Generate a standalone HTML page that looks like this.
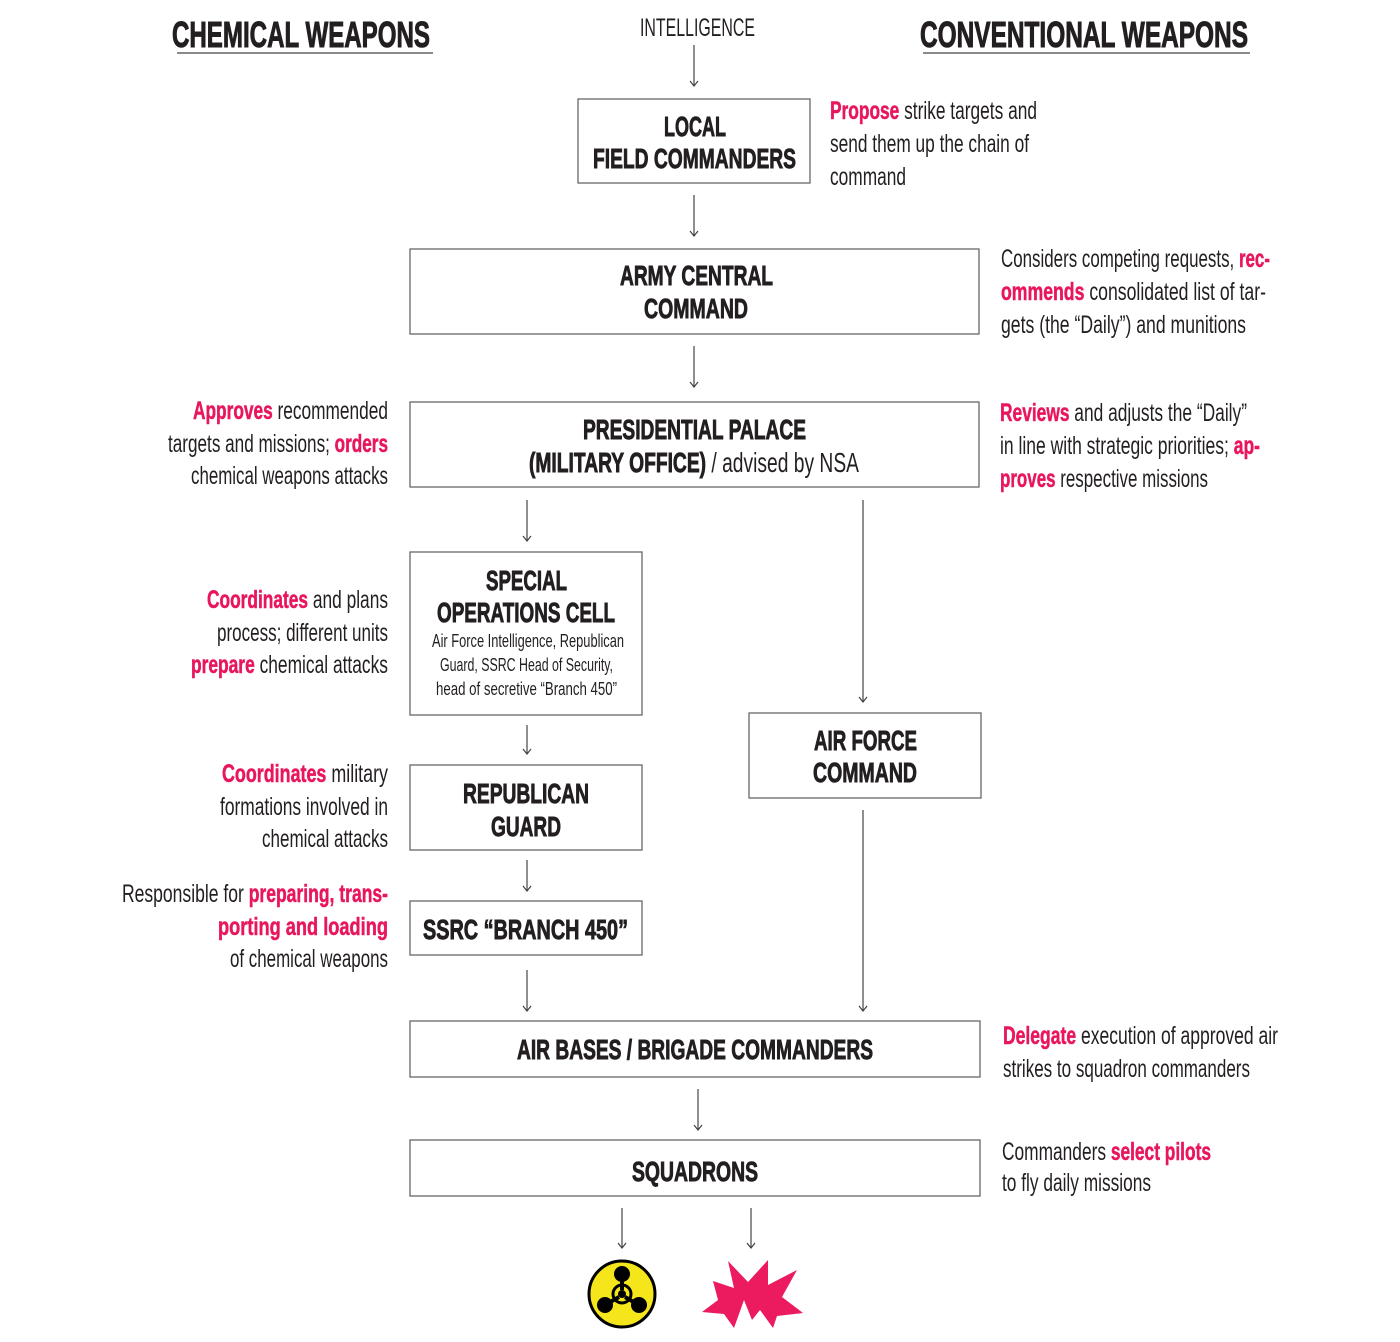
<!DOCTYPE html>
<html><head><meta charset="utf-8"><style>
html,body{margin:0;padding:0;background:#fff;}
svg{display:block;}
text{font-family:"Liberation Sans",sans-serif;fill:#231f20;}
.h{font-weight:bold;font-size:36px;stroke:#231f20;stroke-width:1;}
.b{font-weight:bold;font-size:28px;stroke:#231f20;stroke-width:0.9;}
.b tspan.r{font-weight:normal;stroke-width:0;}
.n{font-size:25px;}
.s{font-size:18px;}
.p{fill:#e8175d;font-weight:bold;stroke:#e8175d;stroke-width:0.5;}
rect.bx{fill:#fff;stroke:#666;stroke-width:1.3;}
line.a{stroke:#444;stroke-width:1.2;}
</style></head><body>
<svg width="1400" height="1342" viewBox="0 0 1400 1342" xmlns="http://www.w3.org/2000/svg">
<defs><marker id="m" markerWidth="10" markerHeight="10" refX="8" refY="5" orient="auto" markerUnits="userSpaceOnUse"><path d="M3,1 L8,5 L3,9" fill="none" stroke="#444" stroke-width="1.2"/></marker></defs>
<text class="h" x="172" y="47" textLength="258" lengthAdjust="spacingAndGlyphs">CHEMICAL WEAPONS</text>
<line x1="177" y1="53" x2="433" y2="53" stroke="#444" stroke-width="1.2"/>
<text class="h" x="920" y="47" textLength="328" lengthAdjust="spacingAndGlyphs">CONVENTIONAL WEAPONS</text>
<line x1="923" y1="53" x2="1250" y2="53" stroke="#444" stroke-width="1.2"/>
<text class="n" x="640" y="36" textLength="115" lengthAdjust="spacingAndGlyphs">INTELLIGENCE</text>
<g marker-end="url(#m)">
<line class="a" x1="694" y1="45" x2="694" y2="86"/>
<line class="a" x1="694" y1="195" x2="694" y2="236"/>
<line class="a" x1="694" y1="346" x2="694" y2="387"/>
<line class="a" x1="527" y1="500" x2="527" y2="541"/>
<line class="a" x1="863" y1="500" x2="863" y2="702"/>
<line class="a" x1="527" y1="725" x2="527" y2="754"/>
<line class="a" x1="527" y1="860" x2="527" y2="891"/>
<line class="a" x1="527" y1="970" x2="527" y2="1011"/>
<line class="a" x1="863" y1="810" x2="863" y2="1011"/>
<line class="a" x1="698" y1="1089" x2="698" y2="1130"/>
<line class="a" x1="622" y1="1208" x2="622" y2="1248"/>
<line class="a" x1="751" y1="1208" x2="751" y2="1248"/>
</g>
<rect class="bx" x="578" y="99" width="232" height="84"/>
<text class="b" x="664" y="136" textLength="62" lengthAdjust="spacingAndGlyphs">LOCAL</text>
<text class="b" x="593" y="168" textLength="203" lengthAdjust="spacingAndGlyphs">FIELD COMMANDERS</text>
<rect class="bx" x="410" y="249" width="569" height="85"/>
<text class="b" x="620" y="285" textLength="153" lengthAdjust="spacingAndGlyphs">ARMY CENTRAL</text>
<text class="b" x="644" y="318" textLength="104" lengthAdjust="spacingAndGlyphs">COMMAND</text>
<rect class="bx" x="410" y="402" width="569" height="85"/>
<text class="b" x="583" y="439" textLength="223" lengthAdjust="spacingAndGlyphs">PRESIDENTIAL PALACE</text>
<text class="b" x="529" y="472" textLength="330" lengthAdjust="spacingAndGlyphs">(MILITARY OFFICE) <tspan class="r">/ advised by NSA</tspan></text>
<rect class="bx" x="410" y="552" width="232" height="163"/>
<text class="b" x="486" y="590" textLength="81" lengthAdjust="spacingAndGlyphs">SPECIAL</text>
<text class="b" x="437" y="622" textLength="178" lengthAdjust="spacingAndGlyphs">OPERATIONS CELL</text>
<text class="s" x="432" y="647" textLength="192" lengthAdjust="spacingAndGlyphs">Air Force Intelligence, Republican</text>
<text class="s" x="440" y="671" textLength="173" lengthAdjust="spacingAndGlyphs">Guard, SSRC Head of Security,</text>
<text class="s" x="436" y="695" textLength="181" lengthAdjust="spacingAndGlyphs">head of secretive “Branch 450”</text>
<rect class="bx" x="410" y="765" width="232" height="85"/>
<text class="b" x="463" y="803" textLength="126" lengthAdjust="spacingAndGlyphs">REPUBLICAN</text>
<text class="b" x="491" y="836" textLength="70" lengthAdjust="spacingAndGlyphs">GUARD</text>
<rect class="bx" x="410" y="901" width="232" height="54"/>
<text class="b" x="423" y="939" textLength="205" lengthAdjust="spacingAndGlyphs">SSRC “BRANCH 450”</text>
<rect class="bx" x="749" y="713" width="232" height="85"/>
<text class="b" x="814" y="750" textLength="103" lengthAdjust="spacingAndGlyphs">AIR FORCE</text>
<text class="b" x="813" y="782" textLength="104" lengthAdjust="spacingAndGlyphs">COMMAND</text>
<rect class="bx" x="410" y="1021" width="570" height="56"/>
<text class="b" x="517" y="1059" textLength="356" lengthAdjust="spacingAndGlyphs">AIR BASES / BRIGADE COMMANDERS</text>
<rect class="bx" x="410" y="1140" width="570" height="56"/>
<text class="b" x="632" y="1181" textLength="126" lengthAdjust="spacingAndGlyphs">SQUADRONS</text>
<g>
<text class="n" x="830" y="119" textLength="207" lengthAdjust="spacingAndGlyphs"><tspan class="p">Propose</tspan> strike targets and</text>
<text class="n" x="830" y="152" textLength="199" lengthAdjust="spacingAndGlyphs">send them up the chain of</text>
<text class="n" x="830" y="185" textLength="76" lengthAdjust="spacingAndGlyphs">command</text>
<text class="n" x="1001" y="267" textLength="269" lengthAdjust="spacingAndGlyphs">Considers competing requests, <tspan class="p">rec-</tspan></text>
<text class="n" x="1001" y="300" textLength="265" lengthAdjust="spacingAndGlyphs"><tspan class="p">ommends</tspan> consolidated list of tar-</text>
<text class="n" x="1001" y="333" textLength="245" lengthAdjust="spacingAndGlyphs">gets (the “Daily”) and munitions</text>
<text class="n" x="1000" y="421" textLength="247" lengthAdjust="spacingAndGlyphs"><tspan class="p">Reviews</tspan> and adjusts the “Daily”</text>
<text class="n" x="1000" y="454" textLength="260" lengthAdjust="spacingAndGlyphs">in line with strategic priorities; <tspan class="p">ap-</tspan></text>
<text class="n" x="1000" y="487" textLength="208" lengthAdjust="spacingAndGlyphs"><tspan class="p">proves</tspan> respective missions</text>
<text class="n" x="1003" y="1044" textLength="275" lengthAdjust="spacingAndGlyphs"><tspan class="p">Delegate</tspan> execution of approved air</text>
<text class="n" x="1003" y="1077" textLength="247" lengthAdjust="spacingAndGlyphs">strikes to squadron commanders</text>
<text class="n" x="1002" y="1160" textLength="209" lengthAdjust="spacingAndGlyphs">Commanders <tspan class="p">select pilots</tspan></text>
<text class="n" x="1002" y="1191" textLength="149" lengthAdjust="spacingAndGlyphs">to fly daily missions</text>
<text class="n" x="193" y="419" textLength="195" lengthAdjust="spacingAndGlyphs"><tspan class="p">Approves</tspan> recommended</text>
<text class="n" x="168" y="452" textLength="220" lengthAdjust="spacingAndGlyphs">targets and missions; <tspan class="p">orders</tspan></text>
<text class="n" x="191" y="484" textLength="197" lengthAdjust="spacingAndGlyphs">chemical weapons attacks</text>
<text class="n" x="207" y="608" textLength="181" lengthAdjust="spacingAndGlyphs"><tspan class="p">Coordinates</tspan> and plans</text>
<text class="n" x="217" y="641" textLength="171" lengthAdjust="spacingAndGlyphs">process; different units</text>
<text class="n" x="191" y="673" textLength="197" lengthAdjust="spacingAndGlyphs"><tspan class="p">prepare</tspan> chemical attacks</text>
<text class="n" x="222" y="782" textLength="166" lengthAdjust="spacingAndGlyphs"><tspan class="p">Coordinates</tspan> military</text>
<text class="n" x="220" y="815" textLength="168" lengthAdjust="spacingAndGlyphs">formations involved in</text>
<text class="n" x="262" y="847" textLength="126" lengthAdjust="spacingAndGlyphs">chemical attacks</text>
<text class="n" x="122" y="902" textLength="266" lengthAdjust="spacingAndGlyphs">Responsible for <tspan class="p">preparing, trans-</tspan></text>
<text class="n" x="218" y="935" textLength="170" lengthAdjust="spacingAndGlyphs"><tspan class="p">porting and loading</tspan></text>
<text class="n" x="230" y="967" textLength="158" lengthAdjust="spacingAndGlyphs">of chemical weapons</text>
</g>
<circle cx="622" cy="1294" r="33" fill="#f5e51b" stroke="#000" stroke-width="3"/>
<g fill="#000">
<circle cx="622" cy="1274" r="8"/>
<circle cx="605" cy="1305" r="8"/>
<circle cx="639" cy="1305" r="8"/>
<path d="M622 1274 L622 1290 M605 1305 L619 1297 M639 1305 L625 1297" stroke="#000" stroke-width="4"/>
<circle cx="622" cy="1294" r="9" fill="none" stroke="#000" stroke-width="3"/>
<circle cx="622" cy="1294" r="4"/>
</g>
<polygon fill="#ec1a5f" points="728,1261 748,1282 768,1260 768,1285 797,1270 782,1297 803,1313 777,1316 773,1328 760,1310 752,1320 744,1300 734,1328 724,1314 702,1312 718,1300 713,1281 734,1288"/>
</svg>
</body></html>
